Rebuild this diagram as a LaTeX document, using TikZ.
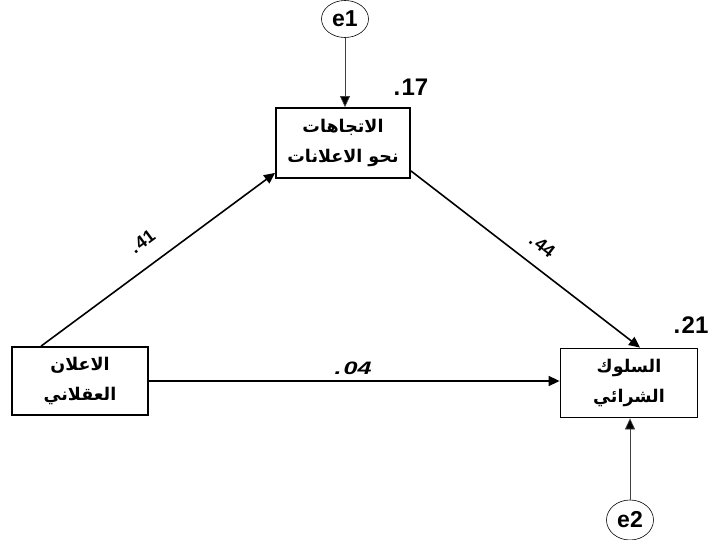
\documentclass[tikz,border=0pt]{standalone}
\usepackage{graphicx}
\usepackage{fontspec}
\setmainfont{Liberation Sans}[Script=Latin]
\newfontfamily\arabicfont[Script=Arabic]{DejaVu Sans}
\usetikzlibrary{arrows.meta,shapes.geometric}

% two Arabic words on one line
\newcommand{\rtlpair}[2]{#2 #1}

\tikzset{
  varbox/.style={draw, line width=1.8pt, minimum width=#1, minimum height=68pt,
    inner sep=0pt, align=center,
    font=\arabicfont\bfseries\fontsize{17.5}{30}\selectfont},
  errnode/.style={draw, ellipse, line width=0.6pt, minimum width=47pt, minimum height=37pt,
    inner sep=0pt, font=\bfseries\fontsize{23}{23}\selectfont},
  patharrow/.style={line width=1.6pt, -{Triangle[length=11pt,width=10pt]}},
  errarrow/.style={line width=0.7pt, draw=black!75, -{Triangle[length=11pt,width=10pt,fill=black]}},
  coef/.style={font=\bfseries\fontsize{18}{18}\selectfont, inner sep=1pt},
  coefit/.style={font=\bfseries\itshape\fontsize{18}{18}\selectfont, inner sep=1pt},
  rsq/.style={font=\bfseries\fontsize{24}{24}\selectfont, inner sep=1pt},
  % decimal point placed just before the digits of a value
  decpt/.style={inner sep=0pt, anchor=base east}
}

\begin{document}
\begin{tikzpicture}[x=1pt, y=-1pt]
  \useasboundingbox (0,0) rectangle (713,540);

  % observed variables
  \node[varbox=134pt, minimum height=70pt] (att) at (343,143)
    {الاتجاهات\\ \rtlpair{نحو}{الاعلانات}};
  \node[varbox=136pt] (ad) at (80,381)
    {الاعلان\\ العقلاني};
  \node[varbox=137pt, minimum height=69pt] (buy) at (629,383)
    {السلوك\\ الشرائي};

  % error terms
  \node[errnode] (e1) at (345,19) {e1};
  \node[errnode, minimum height=40pt] (e2) at (630,520) {e2};

  % structural paths
  \draw[patharrow] ([xshift=30pt]ad.north west) -- ([yshift=6pt]att.south west)
    node[coef, midway, above, sloped, yshift=16pt, xshift=1.5pt] (l41) {41};
  \node[coef, decpt, rotate=36.8] (l41d) at (l41.base west) {.};

  \draw[patharrow] ([yshift=8pt]att.south east) -- ([xshift=11pt]buy.north)
    node[coef, midway, above, sloped, yshift=13pt, xshift=8.5pt] (l44) {44};
  \node[coef, decpt, rotate=-37.8] (l44d) at (l44.base west) {.};

  \draw[patharrow] (ad.east) -- (ad.east -| buy.west)
    node[coefit, midway, above, yshift=5pt, xshift=3.5pt] (l04) {\scalebox{1.4}[1]{04}};
  \node[coefit, decpt] (l04d) at (l04.base west) {\scalebox{1.4}[1]{.}};

  % error paths
  \draw[errarrow] (e1.south) -- (e1.south |- att.north);
  \draw[errarrow] (e2.north) -- (e2.north |- buy.south);

  % squared multiple correlations
  \node[rsq] (r1) at (415,87) {17};
  \node[rsq, decpt] (r1d) at (r1.base west) {.};
  \node[rsq] (r2) at (695,325) {21};
  \node[rsq, decpt] (r2d) at (r2.base west) {.};
\end{tikzpicture}
\end{document}
